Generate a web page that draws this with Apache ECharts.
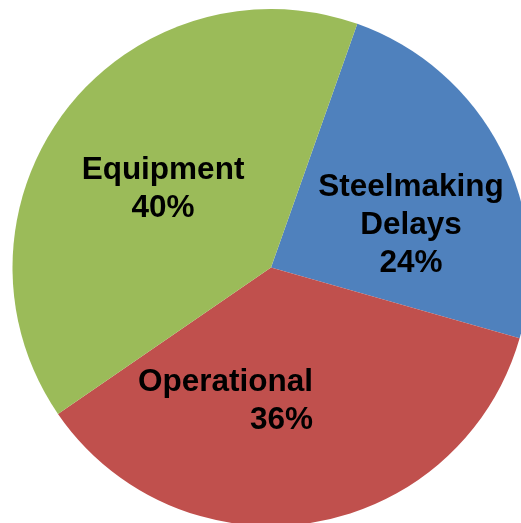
<!DOCTYPE html>
<html>
<head>
<meta charset="utf-8">
<script src="https://cdn.jsdelivr.net/npm/echarts@6/dist/echarts.min.js"></script>
<style>
html,body{margin:0;padding:0;background:#fff;}
#c{width:521px;height:523px;}
</style>
</head>
<body>
<div id="c"></div>
<script>
const categories = ["Steelmaking\nDelays", "Operational", "Equipment"];
const values = [24, 36, 40];
const colors = ["#4F81BD", "#C0504D", "#9BBB59"];

// label anchor placement (layout only)
const labelPos = [
  {x: 411, y: 225, align: 'center'},
  {x: 313, y: 401, align: 'right'},
  {x: 163, y: 189, align: 'center'}
];

const chart = echarts.init(document.getElementById('c'), null, {renderer: 'canvas'});
chart.setOption({
  animation: false,
  backgroundColor: '#ffffff',
  series: [{
    type: 'pie',
    center: [271, 267.5],
    radius: 258.5,
    startAngle: 70.5,
    clockwise: true,
    silent: true,
    data: categories.map((c, i) => ({
      name: c,
      value: values[i],
      itemStyle: {color: colors[i], borderWidth: 0}
    })),
    label: {
      show: true,
      position: 'inside',
      formatter: p => p.name + '\n' + Math.round(p.percent) + '%',
      fontFamily: 'Liberation Sans, Arial, sans-serif',
      fontWeight: 'bold',
      fontSize: 31.5,
      lineHeight: 38,
      color: '#000'
    },
    labelLine: {show: false},
    labelLayout: function (params) {
      const lp = labelPos[params.dataIndex];
      return {x: lp.x, y: lp.y, align: lp.align, verticalAlign: 'middle'};
    }
  }]
});
</script>
</body>
</html>
